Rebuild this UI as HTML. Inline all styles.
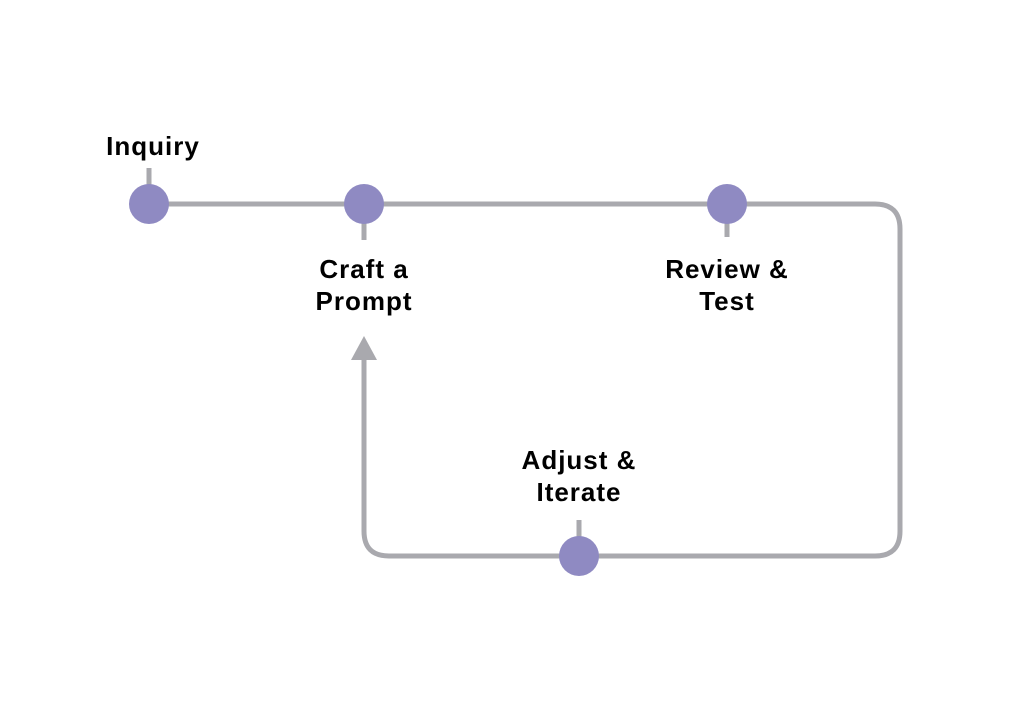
<!DOCTYPE html>
<html><head><meta charset="utf-8"><style>
html,body{margin:0;padding:0;background:#fff;}
svg{display:block;}
text{font-family:"Liberation Sans",sans-serif;font-weight:bold;fill:#000;font-size:26px;letter-spacing:1px;text-anchor:middle;}
</style></head><body>
<svg width="1024" height="728" viewBox="0 0 1024 728">
<g stroke="#a9a9ae" stroke-width="5" fill="none">
<path d="M149 204 H875 Q900 204 900 229 V531 Q900 556 875 556 H389 Q364 556 364 531 V358"/>
<line x1="149" y1="168" x2="149" y2="186"/>
<line x1="364" y1="222" x2="364" y2="240"/>
<line x1="727" y1="222" x2="727" y2="237"/>
<line x1="579" y1="520" x2="579" y2="538"/>
</g>
<polygon points="364,336 351,360 377,360" fill="#a9a9ae"/>
<g fill="#8f8ac2">
<circle cx="149" cy="204" r="20"/>
<circle cx="364" cy="204" r="20"/>
<circle cx="727" cy="204" r="20"/>
<circle cx="579" cy="556" r="20"/>
</g>
<text x="153" y="155">Inquiry</text>
<text x="364" y="278">Craft a</text>
<text x="364" y="310">Prompt</text>
<text x="727" y="278">Review &amp;</text>
<text x="727" y="310">Test</text>
<text x="579" y="469">Adjust &amp;</text>
<text x="579" y="501">Iterate</text>
</svg>
</body></html>
